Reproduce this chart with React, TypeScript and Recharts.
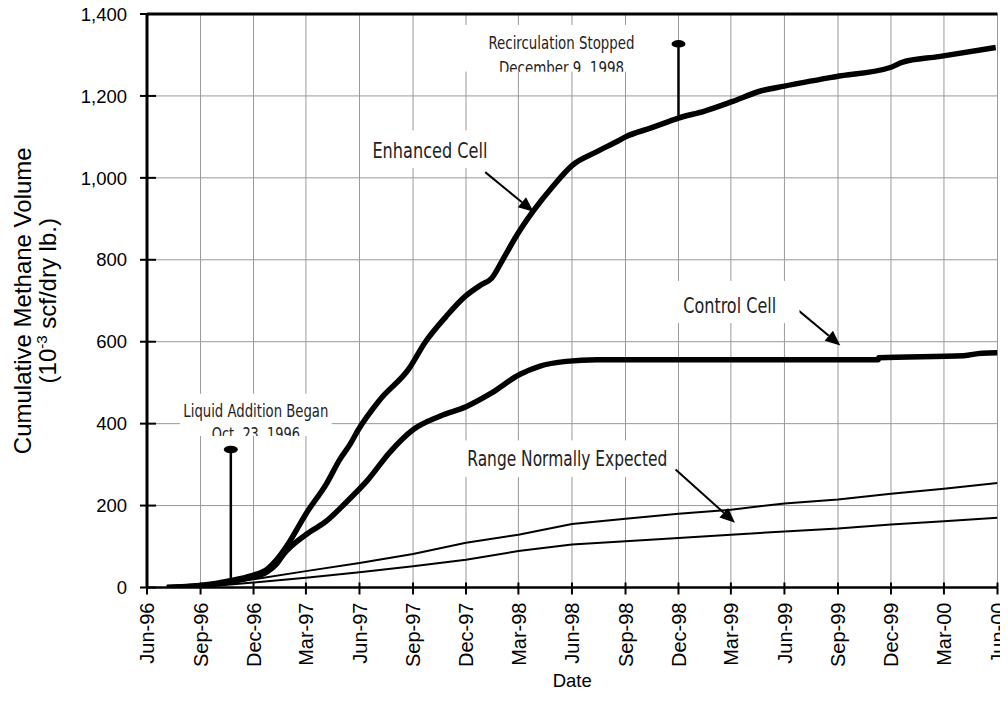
import React from 'react';
import { LineChart, Line, XAxis, YAxis, CartesianGrid, ReferenceLine, ReferenceDot } from 'recharts';

// ---------- axis ticks ----------
const tickDates = [
  '1996-06-01', '1996-09-01', '1996-12-01', '1997-03-01', '1997-06-01', '1997-09-01',
  '1997-12-01', '1998-03-01', '1998-06-01', '1998-09-01', '1998-12-01', '1999-03-01',
  '1999-06-01', '1999-09-01', '1999-12-01', '2000-03-01', '2000-06-01',
];
const tickLabels = [
  'Jun-96', 'Sep-96', 'Dec-96', 'Mar-97', 'Jun-97', 'Sep-97', 'Dec-97', 'Mar-98', 'Jun-98',
  'Sep-98', 'Dec-98', 'Mar-99', 'Jun-99', 'Sep-99', 'Dec-99', 'Mar-00', 'Jun-00',
];
const yTicks = [0, 200, 400, 600, 800, 1000, 1200, 1400];

// ---------- series ----------
const enhancedDates = [
  '1996-07-05', '1996-08-31', '1996-10-27', '1996-11-25', '1996-12-24', '1997-01-10',
  '1997-01-27', '1997-03-02', '1997-04-06', '1997-04-28', '1997-05-16', '1997-05-30',
  '1997-07-06', '1997-08-26', '1997-09-21', '1997-10-28', '1997-11-29', '1997-12-27',
  '1998-01-14', '1998-02-02', '1998-02-25', '1998-03-26', '1998-04-29', '1998-06-01',
  '1998-07-14', '1998-08-19', '1998-09-01', '1998-10-15', '1998-11-15', '1998-12-01',
  '1999-01-15', '1999-03-03', '1999-04-21', '1999-06-01', '1999-08-28', '1999-12-01',
  '1999-12-20', '2000-02-21', '2000-05-29',
];
const enhancedValues = [
  0, 5, 18, 28, 44, 68,
  101, 182, 255, 312, 350, 385,
  458, 536, 597, 662, 710, 739,
  755, 800, 857, 918, 979, 1030,
  1064, 1090, 1100, 1122, 1138, 1146,
  1163, 1186, 1212, 1224, 1247, 1270,
  1282, 1296, 1318,
];

const controlDates = [
  '1996-07-05', '1996-08-31', '1996-10-27', '1996-11-25', '1996-12-24', '1997-01-10',
  '1997-01-21', '1997-03-02', '1997-04-06', '1997-05-07', '1997-06-15', '1997-07-23',
  '1997-09-01', '1997-10-17', '1997-12-02', '1998-01-14', '1998-03-03', '1998-04-06',
  '1998-05-22', '1998-07-14', '1999-11-09', '1999-11-10', '2000-04-04', '2000-05-05',
  '2000-06-01',
];
const controlValues = [
  0, 4, 15, 24, 38, 58,
  80, 130, 163, 205, 262, 330,
  385, 418, 442, 475, 520, 540,
  552, 556, 556, 561, 566, 572,
  573,
];

const rangeDates = [
  '1996-09-01', '1996-12-01', '1997-03-01', '1997-06-01', '1997-09-01', '1997-12-01',
  '1998-03-01', '1998-06-01', '1998-09-01', '1998-12-01', '1999-03-01', '1999-06-01',
  '1999-09-01', '1999-12-01', '2000-03-01', '2000-06-01',
];
const rangeUpperValues = [2, 20, 40, 60, 82, 109, 129, 155, 168, 180, 190, 205, 215, 229, 241, 255];
const rangeLowerValues = [1, 12, 24, 37, 52, 68, 89, 105, 113, 121, 129, 137, 144, 154, 162, 170];

// ---------- annotations ----------
const noteTexts = [
  ['Recirculation Stopped', 'December 9, 1998'],
  ['Liquid Addition Began', 'Oct. 23, 1996'],
  ['Enhanced Cell'],
  ['Control Cell'],
  ['Range Normally Expected'],
];
const noteDates = ['1998-05-14', '1996-12-05', '1997-09-30', '1999-02-27', '1998-05-24'];
const noteValues = [1315, 415, 1048, 671, 296];

const markerDates = ['1996-10-23', '1998-12-01'];
const markerTopValues = [337, 1327];
const markerBottomValues = [10, 1146];

const arrowFromDates = ['1998-01-03', '1999-06-11', '1998-11-26'];
const arrowFromValues = [1014, 693, 288];
const arrowToDates = ['1998-03-27', '1999-09-05', '1999-03-08'];
const arrowToValues = [917, 591, 158];

// ---------- helpers ----------
const ts = (s: string) => Date.parse(s + 'T00:00:00Z');
const tickTs = tickDates.map(ts);
const fmt = (n: number) => String(n).replace(/\B(?=(\d{3})+(?!\d))/g, ',');

const enhancedData = enhancedDates.map((d, i) => ({ t: ts(d), v: enhancedValues[i] }));
const controlData = controlDates.map((d, i) => ({ t: ts(d), v: controlValues[i] }));
const upperData = rangeDates.map((d, i) => ({ t: ts(d), v: rangeUpperValues[i] }));
const lowerData = rangeDates.map((d, i) => ({ t: ts(d), v: rangeLowerValues[i] }));

const SANS = "'Liberation Sans', Arial, Helvetica, sans-serif";
const NARROW = "'Liberation Sans Narrow', 'Arial Narrow', 'DejaVu Sans Condensed', sans-serif";

// style of each note: font size, text widths, box around (relative to anchor)
const noteStyles = [
  { fs: 18.5, widths: [146, 125], gap: 25, box: [-106, -24, 104, 23] },
  { fs: 18.5, widths: [145, 88], gap: 22.7, box: [-76, -24, 76, 18.5] },
  { fs: 21, widths: [115], gap: 0, box: [-65, -28, 80, 10] },
  { fs: 21, widths: [93], gap: 0, box: [-80, -32, 70, 10.7] },
  { fs: 21, widths: [200], gap: 0, box: [-112, -26, 103, 11] },
];

const makeNote = (idx: number) => (p: any) => {
  const { cx, cy } = p;
  const st = noteStyles[idx];
  const [l, t, r, b] = st.box;
  const bx = cx + l;
  const by = cy + t;
  const bw = r - l;
  const bh = b - t;
  return (
    <svg x={bx} y={by} width={bw} height={bh} overflow="hidden">
      <rect x={0} y={0} width={bw} height={bh} fill="#fff" />
      {noteTexts[idx].map((ln, i) => (
        <text
          key={i}
          x={cx - bx}
          y={cy - by + i * st.gap}
          textAnchor="middle"
          fontSize={st.fs}
          fontFamily={NARROW}
          fill="#222"
          textLength={st.widths[i]}
          lengthAdjust="spacingAndGlyphs"
        >
          {ln}
        </text>
      ))}
    </svg>
  );
};

const Ellipse = (p: any) => <ellipse cx={p.cx} cy={p.cy} rx={7} ry={3.8} fill="#000" />;

const ArrowShape = (p: any) => {
  const { x1, y1, x2, y2 } = p;
  const dx = x2 - x1;
  const dy = y2 - y1;
  const len = Math.sqrt(dx * dx + dy * dy) || 1;
  const ux = dx / len;
  const uy = dy / len;
  const hl = 15;
  const hw = 6.5;
  const bxp = x2 - ux * hl;
  const byp = y2 - uy * hl;
  const pts = `${x2},${y2} ${bxp - uy * hw},${byp + ux * hw} ${bxp + uy * hw},${byp - ux * hw}`;
  return (
    <g>
      <line x1={x1} y1={y1} x2={bxp} y2={byp} stroke="#000" strokeWidth={2} />
      <polygon points={pts} fill="#000" />
    </g>
  );
};

const YTick = (p: any) => {
  const { x, y, payload } = p;
  const ax = x + 7 + 13;
  return (
    <g>
      <line x1={ax} x2={ax + 9} y1={y} y2={y} stroke="#000" strokeWidth={2} />
      <text x={x} y={y} dy="0.36em" textAnchor="end" fontSize={18.5} fontFamily={SANS} fill="#000">
        {fmt(payload.value)}
      </text>
    </g>
  );
};

const XTick = (p: any) => {
  const { x, y, payload } = p;
  const ay = y - 7 - 8;
  const idx = tickTs.indexOf(payload.value);
  return (
    <g>
      <line x1={x} x2={x} y1={ay - 5} y2={ay} stroke="#000" strokeWidth={2} />
      <text
        transform={`rotate(-90 ${x} ${y})`}
        x={x}
        y={y}
        dy="0.36em"
        textAnchor="end"
        fontSize={20}
        fontFamily={SANS}
        fill="#000"
      >
        {idx >= 0 ? tickLabels[idx] : ''}
      </text>
    </g>
  );
};

const YTitle = (p: any) => {
  const vb = p.viewBox || { x: 0, y: 6, width: 139, height: 573.5 };
  const cy = vb.y + vb.height / 2;
  const x1 = vb.x + 23;
  const x2 = vb.x + 48;
  return (
    <g>
      <text
        transform={`rotate(-90 ${x1} ${cy})`}
        x={x1}
        y={cy}
        textAnchor="middle"
        fontSize={24}
        fontFamily={SANS}
        fill="#000"
      >
        Cumulative Methane Volume
      </text>
      <text
        transform={`rotate(-90 ${x2} ${cy})`}
        x={x2}
        y={cy}
        textAnchor="middle"
        fontSize={24}
        fontFamily={SANS}
        fill="#000"
      >
        (10
        <tspan dy={-9} fontSize={15}>-3</tspan>
        <tspan dy={9}> scf/dry lb.)</tspan>
      </text>
    </g>
  );
};

const XTitle = (p: any) => {
  const vb = p.viewBox || { x: 139, y: 579.5, width: 850.5, height: 90 };
  return (
    <text x={vb.x + vb.width / 2} y={vb.y + 99.5} textAnchor="middle" fontSize={18.5} fontFamily={SANS} fill="#000">
      Date
    </text>
  );
};

export default function App() {
  return (
    <div style={{ width: 1000, height: 703 }}>
      <LineChart width={1000} height={703} margin={{ top: 6, right: 10.5, bottom: 33.5, left: 0 }}>
        <CartesianGrid stroke="#999" strokeWidth={1} />
        <XAxis
          dataKey="t"
          type="number"
          domain={[tickTs[0], tickTs[tickTs.length - 1]]}
          ticks={tickTs}
          interval={0}
          allowDataOverflow
          height={90}
          tickSize={7}
          tickMargin={8}
          tick={<XTick />}
          tickLine={{ stroke: '#000', strokeWidth: 2 }}
          axisLine={{ stroke: '#000', strokeWidth: 2.5 }}
          label={<XTitle />}
        />
        <YAxis
          type="number"
          domain={[0, 1400]}
          ticks={yTicks}
          interval={0}
          allowDataOverflow
          width={139}
          tickSize={7}
          tickMargin={13}
          tick={<YTick />}
          tickLine={{ stroke: '#000', strokeWidth: 2 }}
          axisLine={{ stroke: '#000', strokeWidth: 3 }}
          label={<YTitle />}
        />
        <ReferenceLine y={1400} stroke="#000" strokeWidth={3} />

        {noteTexts.map((_, i) => (
          <ReferenceDot key={'n' + i} x={ts(noteDates[i])} y={noteValues[i]} r={0} shape={makeNote(i)} />
        ))}

        <Line data={upperData} dataKey="v" type="linear" stroke="#000" strokeWidth={2} dot={false} isAnimationActive={false} />
        <Line data={lowerData} dataKey="v" type="linear" stroke="#000" strokeWidth={2} dot={false} isAnimationActive={false} />
        <Line data={controlData} dataKey="v" type="monotone" stroke="#000" strokeWidth={5.5} strokeLinejoin="round" dot={false} isAnimationActive={false} />
        <Line data={enhancedData} dataKey="v" type="monotone" stroke="#000" strokeWidth={5.5} strokeLinejoin="round" dot={false} isAnimationActive={false} />

        {markerDates.map((d, i) => (
          <ReferenceLine
            key={'m' + i}
            segment={[
              { x: ts(d), y: markerTopValues[i] },
              { x: ts(d), y: markerBottomValues[i] },
            ]}
            stroke="#000"
            strokeWidth={2.5}
          />
        ))}
        {markerDates.map((d, i) => (
          <ReferenceDot key={'e' + i} x={ts(d)} y={markerTopValues[i]} r={0} shape={Ellipse} />
        ))}
        {arrowFromDates.map((d, i) => (
          <ReferenceLine
            key={'a' + i}
            segment={[
              { x: ts(d), y: arrowFromValues[i] },
              { x: ts(arrowToDates[i]), y: arrowToValues[i] },
            ]}
            shape={ArrowShape}
          />
        ))}
      </LineChart>
    </div>
  );
}
